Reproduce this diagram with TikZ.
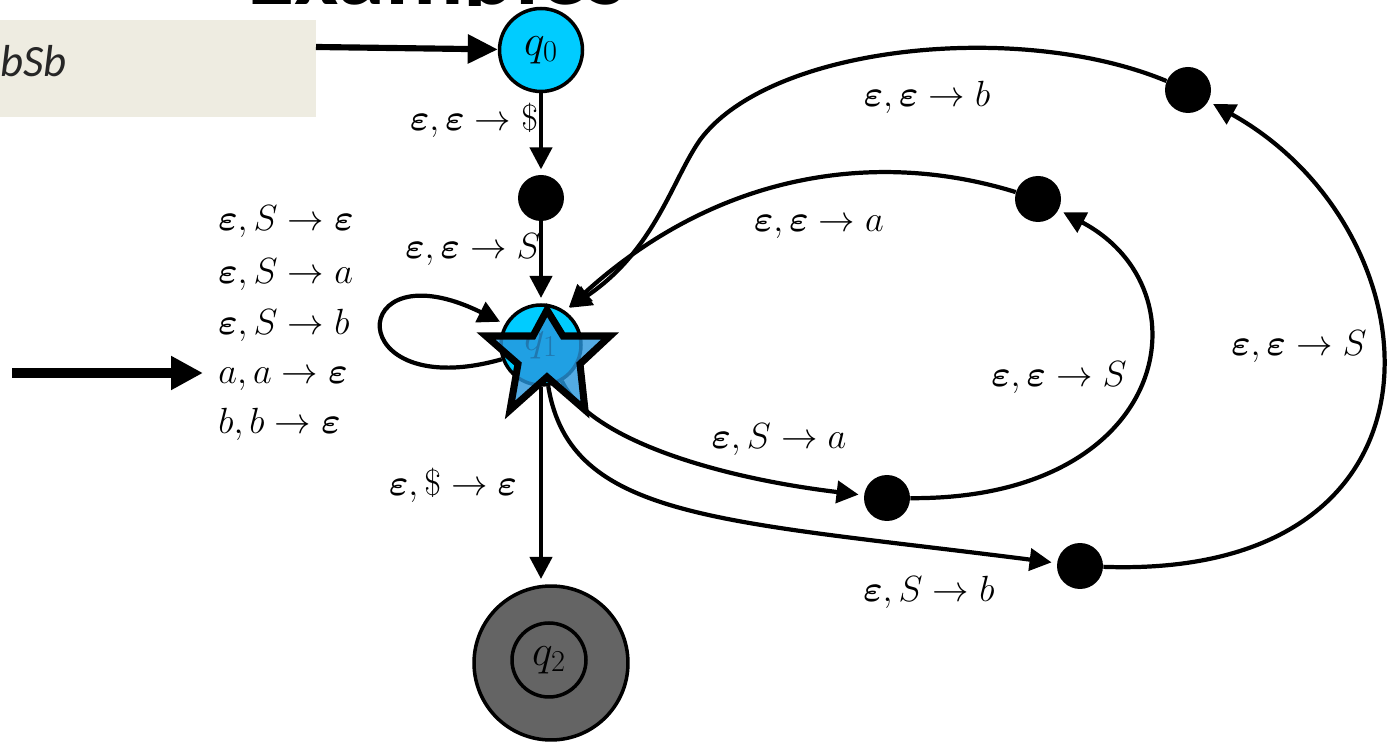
\documentclass[tikz,border=0pt]{standalone}
\usepackage{amsmath}
\usepackage{fontspec}
\newfontfamily\calibri{Carlito}
\usetikzlibrary{arrows.meta}
\definecolor{statecyan}{RGB}{0,204,255}
\definecolor{starblue}{RGB}{40,150,220}
\definecolor{finalgray}{RGB}{100,100,100}
\definecolor{boxtan}{RGB}{238,236,225}
\newcommand{\eps}{\boldsymbol{\varepsilon}}
\begin{document}
\begin{tikzpicture}[x=0.02cm,y=-0.02cm,
  state/.style={circle,draw,line width=2pt,fill=statecyan,minimum size=1.7cm,inner sep=0pt,font=\fontsize{26}{26}\selectfont},
  dot/.style={circle,fill=black,minimum size=0.92cm,inner sep=0pt},
  edge/.style={line width=2.4pt,shorten >=3pt,-{Triangle[length=0.44cm,width=0.44cm]}},
  lab/.style={font=\fontsize{19.5}{23}\selectfont,inner sep=0pt}]
\useasboundingbox (0,0) rectangle (1397,742);
%\draw[help lines, step=100] (0,0) grid (1397,742);
% title, mostly hidden above the picture
\begin{scope}
\clip (150,-100) rectangle (1397,6);
\node[anchor=base west,inner sep=0pt,font=\calibri\bfseries\fontsize{55}{55}\selectfont](title) at (247,5) {Examples};
\end{scope}
\fill[boxtan] (0,20) rectangle (316,117);
\node[anchor=base west,inner sep=0pt,font=\calibri\itshape\fontsize{25.5}{30}\selectfont,text=black!85](rule) at (0,77) {bSb};

\node[state,minimum size=1.66cm](q0) at (541,50) {$q_0$};
\node[dot](d0) at (541,198) {};
\node[state,minimum size=1.6cm](q1) at (541,345) {$q_1$};
\node[circle,draw,line width=2pt,fill=finalgray,minimum size=3.08cm](q2) at (551,663) {};
\node[circle,draw,line width=2pt,minimum size=1.48cm,inner sep=0pt,font=\fontsize{26}{26}\selectfont](q2in) at (549,660) {$q_2$};
\node[dot](da1) at (887,498) {};
\node[dot](db1) at (1080,566) {};
\node[dot](da2) at (1038,199) {};
\node[dot](db2) at (1188,90) {};

\coordinate(in0) at (316,47);
\coordinate(p1) at (12,373);
\coordinate(p2) at (203,373);

\node[lab](t1) at (474,120) {$\eps,\eps\to\$$};
\node[lab](t2) at (473,250) {$\eps,\eps\to S$};
\node[lab](t3) at (453,485) {$\eps,\$\to\eps$};
\node[lab](t4) at (779,440) {$\eps,S\to a$};
\node[lab](t5) at (929,592) {$\eps,S\to b$};
\node[lab](t6) at (1059,378) {$\eps,\eps\to S$};
\node[lab](t7) at (1299,347) {$\eps,\eps\to S$};
\node[lab](t8) at (819,227) {$\eps,\eps\to a$};
\node[lab](t9) at (927,97) {$\eps,\eps\to b$};
\node[lab,anchor=base west](l1) at (218,231) {$\eps,S\to\eps$};
\node[lab,anchor=base west](l2) at (218,284) {$\eps,S\to a$};
\node[lab,anchor=base west](l3) at (218,335) {$\eps,S\to b$};
\node[lab,anchor=base west](l4) at (218,384) {$a,a\to\eps$};
\node[lab,anchor=base west](l5) at (218,434) {$b,b\to\eps$};

\draw[line width=3.5pt,-{Triangle[length=0.6cm,width=0.56cm]}](in0)--(q0);
\draw[line width=6pt,-{Triangle[length=0.64cm,width=0.64cm]}](p1)--(p2);
\draw[edge](q0)--(d0);
\draw[edge](d0)--(q1);
\draw[edge](q1)--(q1 |- q2.north);
\draw[edge](q1.200) .. controls (340,405) and (345,245) .. (q1.150);
\draw[edge](q1.-60) .. controls (590,440) and (720,478) .. (da1);
\draw[edge](q1.-80) .. controls (570,520) and (720,520) .. (db1);
\draw[edge](da1) .. controls (1170,500) and (1210,290) .. (da2);
\draw[edge](db1) .. controls (1470,580) and (1440,230) .. (db2);
\draw[edge](da2) .. controls (880,150) and (720,170) .. (q1.55);
\draw[edge](db2) .. controls (1020,20) and (770,45) .. (700,140) .. controls (672,180) and (655,250) .. (q1.55);

% star on top of q1
\draw[line width=4pt,line join=miter,fill=starblue,fill opacity=0.8]
  (547,310)--(563,336)--(610,336)--(580,364)--(585,410)--(547,377)--(510,410)--(518,364)--(486,336)--(533,336)--cycle;
\end{tikzpicture}
\end{document}
